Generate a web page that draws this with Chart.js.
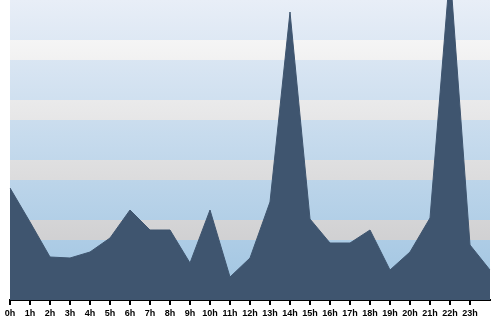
<!DOCTYPE html>
<html>
<head>
<meta charset="utf-8">
<script src="https://cdn.jsdelivr.net/npm/chart.js@4/dist/chart.umd.min.js"></script>
<style>
  html, body { margin: 0; padding: 0; background: #ffffff; }
  #wrap { width: 500px; height: 320px; }
</style>
</head>
<body>
<div id="wrap"><canvas id="c" width="500" height="320"></canvas></div>
<script>
// Hours (last point sits at the right edge, unlabeled)
const hours = ["0h","1h","2h","3h","4h","5h","6h","7h","8h","9h","10h","11h","12h","13h","14h","15h","16h","17h","18h","19h","20h","21h","22h","23h",""];
// Series values per hour
const values = [11.2, 7.8, 4.3, 4.2, 4.8, 6.2, 9.0, 7.0, 7.0, 3.7, 9.0, 2.3, 4.2, 9.8, 28.8, 8.1, 5.7, 5.7, 7.0, 3.0, 4.8, 8.2, 33.0, 5.5, 3.0];
// Value axis range
const yRange = [0, 30];
// Alternating band boundaries (value units)
const bandEdges = [6, 8, 12, 14, 18, 20, 24, 26];

const bandPlugin = {
  id: 'bands',
  beforeDraw(chart) {
    const { ctx, chartArea: a, scales: { y } } = chart;
    ctx.save();
    const blue = ctx.createLinearGradient(0, a.top, 0, a.bottom);
    blue.addColorStop(0, '#e8eef7');
    blue.addColorStop(1, '#9fc4e1');
    ctx.fillStyle = blue;
    ctx.fillRect(a.left, a.top, a.right - a.left, a.bottom - a.top);
    const grey = ctx.createLinearGradient(0, a.top, 0, a.bottom);
    grey.addColorStop(0, '#fcfcfc');
    grey.addColorStop(1, '#c6c6c8');
    ctx.fillStyle = grey;
    for (let i = 0; i < bandEdges.length; i += 2) {
      const yb = y.getPixelForValue(bandEdges[i]);
      const yt = y.getPixelForValue(bandEdges[i + 1]);
      ctx.fillRect(a.left, yt, a.right - a.left, yb - yt);
    }
    ctx.restore();
  }
};

new Chart(document.getElementById('c'), {
  type: 'line',
  data: {
    labels: hours,
    datasets: [{
      data: values,
      fill: 'origin',
      backgroundColor: '#3f556f',
      borderColor: '#3f556f',
      borderWidth: 1,
      pointRadius: 0,
      tension: 0
    }]
  },
  options: {
    responsive: false,
    animation: false,
    devicePixelRatio: 1,
    layout: { padding: { left: 10, right: 10, top: 0, bottom: 0 } },
    plugins: { legend: { display: false }, tooltip: { enabled: false } },
    scales: {
      x: {
        offset: false,
        afterFit(scale) { scale.height = 20; },
        border: { display: true, color: '#000000', width: 2 },
        grid: { drawOnChartArea: false, drawTicks: true, tickLength: 5, color: '#000000', lineWidth: 2 },
        ticks: {
          autoSkip: false, maxRotation: 0, padding: 4,
          color: '#000000',
          font: { family: 'Liberation Sans, Arial, sans-serif', size: 9, weight: 'bold', lineHeight: 1 },
          callback(v, i) { return hours[i] === '' ? null : hours[i]; }
        }
      },
      y: { display: false, min: yRange[0], max: yRange[1] }
    }
  },
  plugins: [bandPlugin]
});
</script>
</body>
</html>
